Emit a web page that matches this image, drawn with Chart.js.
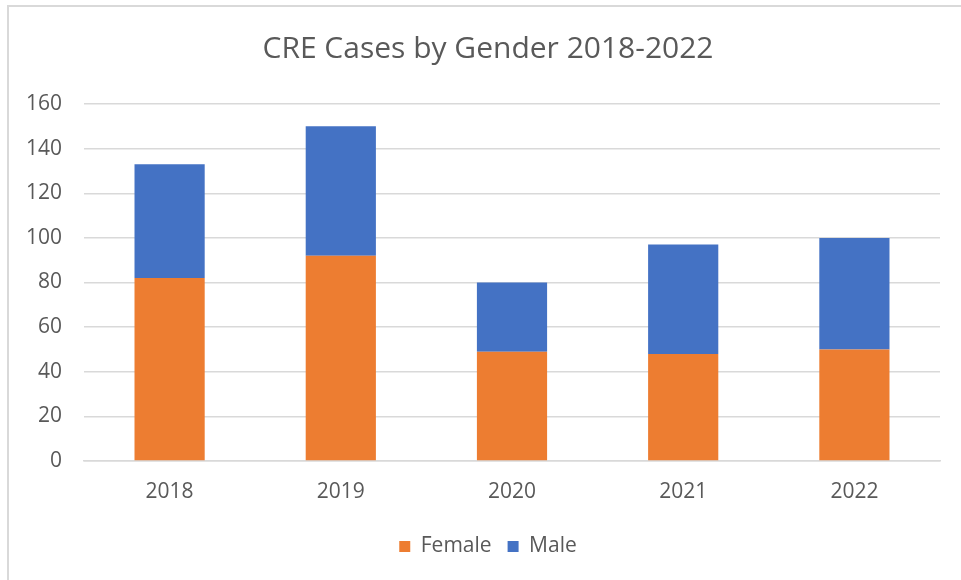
<!DOCTYPE html>
<html>
<head>
<meta charset="utf-8">
<script src="https://cdn.jsdelivr.net/npm/chart.js@4/dist/chart.umd.min.js"></script>
<style>
	html, body { margin: 0; padding: 0; background: #fff; }
	#wrap { position: relative; width: 961px; height: 580px; overflow: hidden; }
	#frame { position: absolute; left: 7px; top: 5px; right: -10px; bottom: -10px; border-left: 2px solid #d9d9d9; border-top: 2px solid #d9d9d9; }
	canvas { position: absolute; left: 0; top: 0; }
</style>
</head>
<body>
<div id="wrap">
	<div id="frame"></div>
	<canvas id="BarChart" width="961" height="580"></canvas>
</div>
<script>
const years = ["2018", "2019", "2020", "2021", "2022"];
const female = [82, 92, 49, 48, 50];
const male = [51, 58, 31, 49, 50];
const y_ticks = [0, 20, 40, 60, 80, 100, 120, 140, 160];

const TEXT = "#595959";
const GRID = "#d9d9d9";
const FONT = "'Open Sans', sans-serif";

// title and legend are centred on the frame, not on the canvas
const shift_boxes = {
	id: "shift_boxes",
	afterLayout(chart) {
		for (const box of [chart.titleBlock, chart.legend]) {
			if (!box) continue;
			box.left += 36;
		}
	}
};

function draw_chart() {
	const data = {
		labels: years,
		datasets: [{
			label: "Female",
			data: female,
			backgroundColor: "#ed7d31"
		}, {
			label: "Male",
			data: male,
			backgroundColor: "#4472c4"
		}]
	};

	const context = document.getElementById("BarChart").getContext("2d");
	new Chart(context, {
		type: "bar",
		data,
		plugins: [shift_boxes],
		options: {
			responsive: false,
			animation: false,
			datasets: {
				bar: { categoryPercentage: 1, barPercentage: 0.41 }
			},
			layout: { padding: { left: 0, right: 21, top: 0, bottom: 13 } },
			plugins: {
				title: {
					display: true,
					text: "CRE Cases by Gender 2018-2022",
					color: TEXT,
					font: { family: FONT, size: 30, weight: "normal" },
					padding: { top: 31, bottom: 37 }
				},
				legend: {
					position: "bottom",
					labels: {
						color: TEXT,
						font: { family: FONT, size: 21 },
						boxWidth: 11,
						boxHeight: 11,
						padding: 16
					}
				},
				tooltip: { enabled: false }
			},
			scales: {
				x: {
					stacked: true,
					grid: { display: false, drawTicks: false },
					border: { color: GRID, width: 1.5 },
					ticks: { color: TEXT, font: { family: FONT, size: 21 }, padding: 18 },
					afterFit: scale => { scale.height = 59; }
				},
				y: {
					stacked: true,
					min: 0,
					max: y_ticks[y_ticks.length - 1],
					afterBuildTicks: scale => { scale.ticks = y_ticks.map(v => ({ value: v })); },
					grid: { color: GRID, lineWidth: 1.5, drawTicks: false },
					border: { display: false },
					ticks: { color: TEXT, font: { family: FONT, size: 21 }, padding: 22 },
					afterFit: scale => { scale.width = 84; }
				}
			}
		}
	});
}

draw_chart();
</script>
</body>
</html>
